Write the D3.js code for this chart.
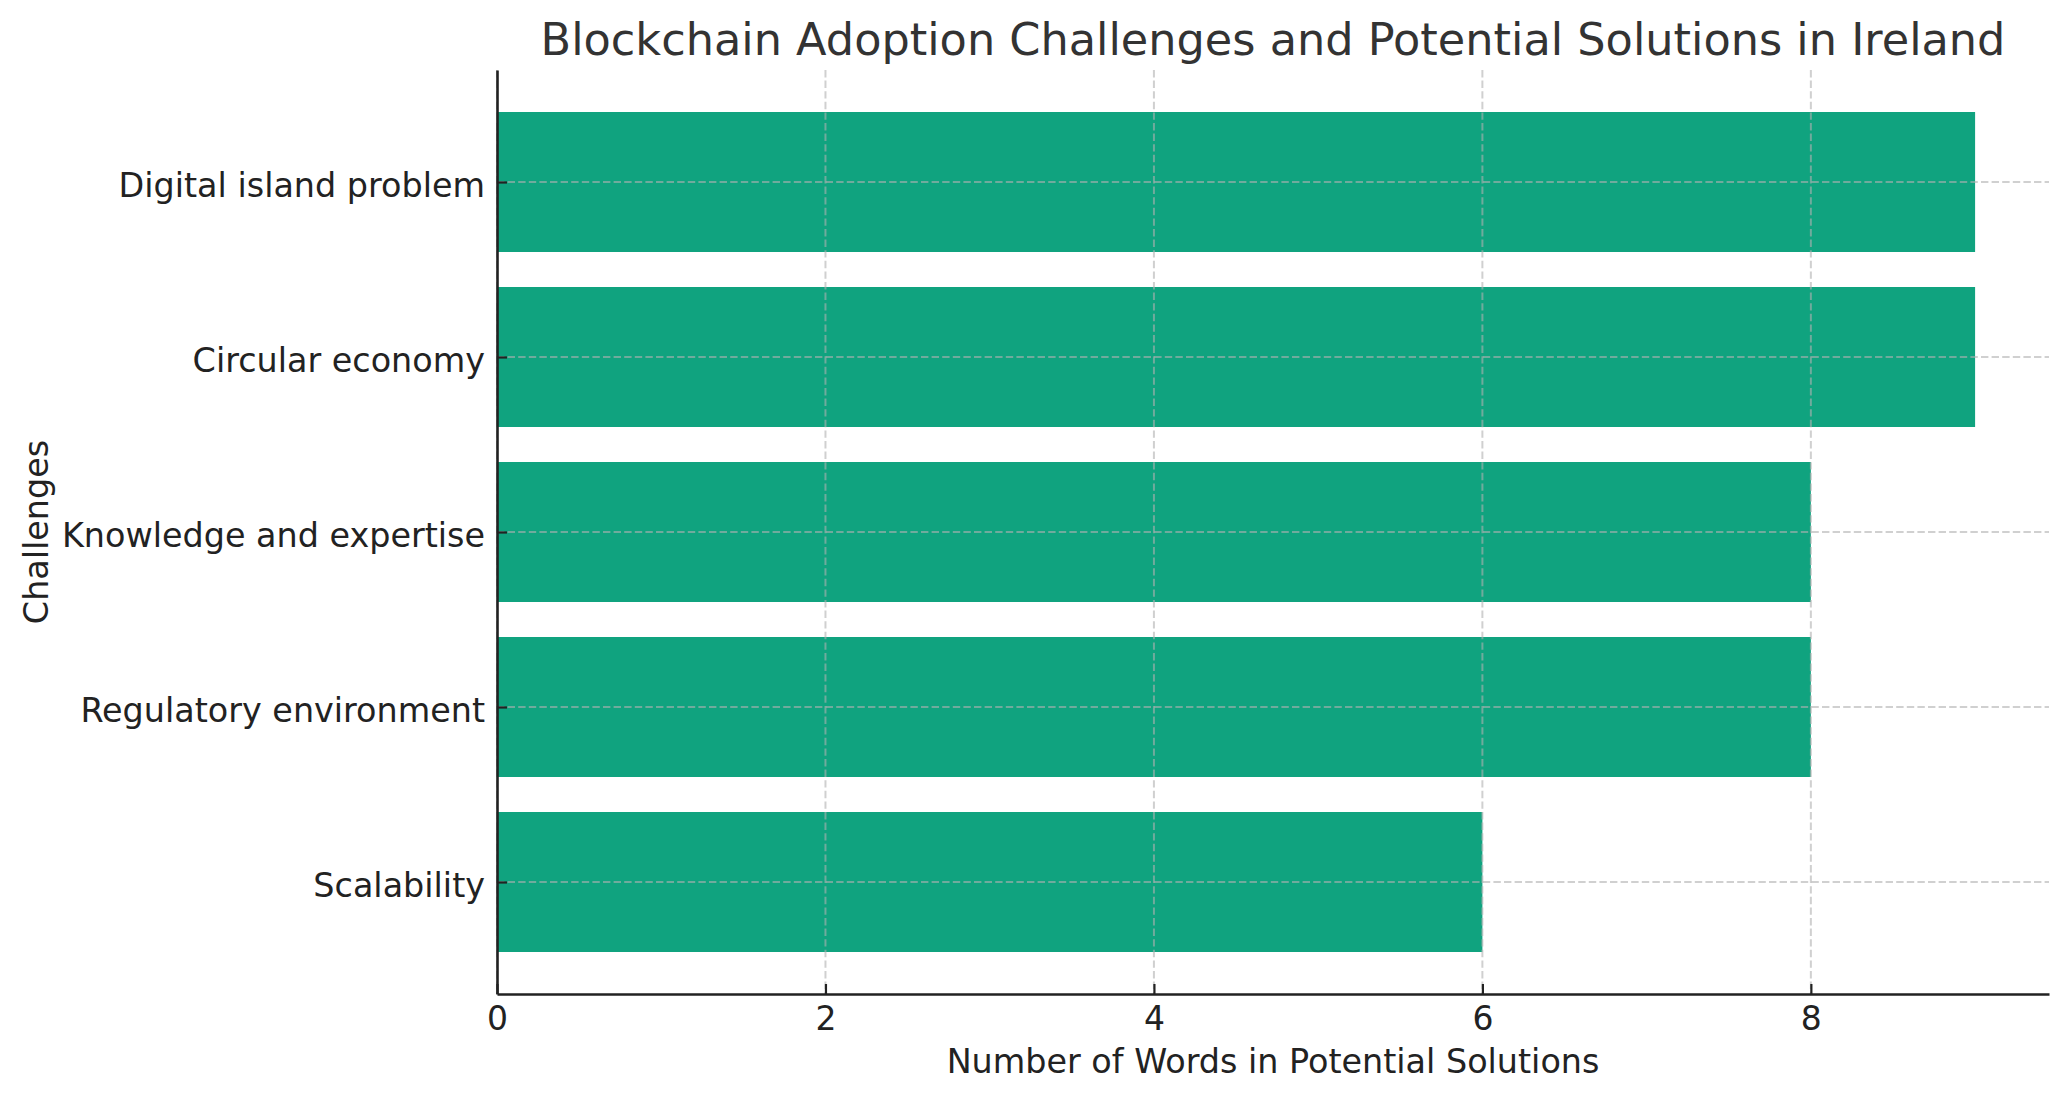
<!DOCTYPE html>
<html>
<head>
<meta charset="utf-8">
<script src="https://cdn.jsdelivr.net/npm/d3@7"></script>
<style>
  html, body { margin: 0; padding: 0; background: #ffffff; }
  svg { display: block; font-family: "DejaVu Sans", sans-serif; }
</style>
</head>
<body>
<svg id="chart" width="2066" height="1101"></svg>
<script>
const categories = ["Scalability", "Regulatory environment", "Knowledge and expertise", "Circular economy", "Digital island problem"];
const values = [6, 8, 8, 9, 9];
const xTicks = [0, 2, 4, 6, 8];
const titleText = "Blockchain Adoption Challenges and Potential Solutions in Ireland";
const xLabelText = "Number of Words in Potential Solutions";
const yLabelText = "Challenges";

const W = 2066, H = 1101;
const margin = { left: 497, right: 17, top: 70, bottom: 107 };
const iw = W - margin.left - margin.right;
const ih = H - margin.top - margin.bottom;

const svg = d3.select("#chart");
const g = svg.append("g").attr("transform", `translate(${margin.left},${margin.top})`);

const x = d3.scaleLinear().domain([0, d3.max(values) * 1.05]).range([0, iw]);
const n = categories.length;
const yLin = d3.scaleLinear().domain([-0.4 - 0.24, n - 1 + 0.4 + 0.24]).range([ih, 0]);
const barH = yLin(0) - yLin(0.8);

// bars
g.selectAll("rect.bar").data(categories).enter().append("rect")
  .attr("class", "bar")
  .attr("x", x(0))
  .attr("y", (d, i) => yLin(i + 0.4))
  .attr("width", (d, i) => x(values[i]) - x(0))
  .attr("height", barH)
  .attr("fill", "#10a37f");

// grid (drawn above bars)
const grid = g.append("g").attr("class", "grid");
grid.selectAll("line.v").data(xTicks).enter().append("line")
  .attr("x1", d => x(d)).attr("x2", d => x(d))
  .attr("y1", 0).attr("y2", ih)
  .attr("stroke", "#b0b0b0").attr("stroke-opacity", 0.6)
  .attr("stroke-width", 2).attr("stroke-dasharray", "7.4,3.2");
grid.selectAll("line.h").data(categories).enter().append("line")
  .attr("x1", 0).attr("x2", iw)
  .attr("y1", (d, i) => yLin(i)).attr("y2", (d, i) => yLin(i))
  .attr("stroke", "#b0b0b0").attr("stroke-opacity", 0.6)
  .attr("stroke-width", 2).attr("stroke-dasharray", "7.4,3.2");

// x axis
const xAxis = d3.axisBottom(x).tickValues(xTicks).tickSizeInner(-10).tickSizeOuter(0).tickPadding(13);
const xg = g.append("g").attr("transform", `translate(0,${ih})`).call(xAxis);
xg.select(".domain").attr("stroke", "#222").attr("stroke-width", 2.6);
xg.selectAll(".tick line").attr("stroke", "#222").attr("stroke-width", 2.2);
xg.selectAll(".tick text").attr("font-size", 33).attr("fill", "#222")
  .attr("font-family", "DejaVu Sans");

// y axis
const yAxis = d3.axisLeft(yLin).tickValues(d3.range(n)).tickFormat(i => categories[i])
  .tickSizeInner(-10).tickSizeOuter(0).tickPadding(12);
const yg = g.append("g").call(yAxis);
yg.select(".domain").attr("stroke", "#222").attr("stroke-width", 2.6);
yg.selectAll(".tick line").attr("stroke", "#222").attr("stroke-width", 2.2);
yg.selectAll(".tick text").attr("font-size", 33.4).attr("fill", "#222")
  .attr("dy", "0.42em")
  .attr("font-family", "DejaVu Sans");

// title
svg.append("text")
  .attr("x", margin.left + iw / 2).attr("y", 55)
  .attr("text-anchor", "middle")
  .attr("font-size", 44.6).attr("fill", "#333")
  .text(titleText);

// x label
svg.append("text")
  .attr("x", margin.left + iw / 2).attr("y", 1073)
  .attr("text-anchor", "middle")
  .attr("font-size", 33.4).attr("fill", "#222")
  .text(xLabelText);

// y label
svg.append("text")
  .attr("transform", `translate(48,${margin.top + ih / 2}) rotate(-90)`)
  .attr("text-anchor", "middle")
  .attr("font-size", 33.4).attr("fill", "#222")
  .text(yLabelText);
</script>
</body>
</html>
